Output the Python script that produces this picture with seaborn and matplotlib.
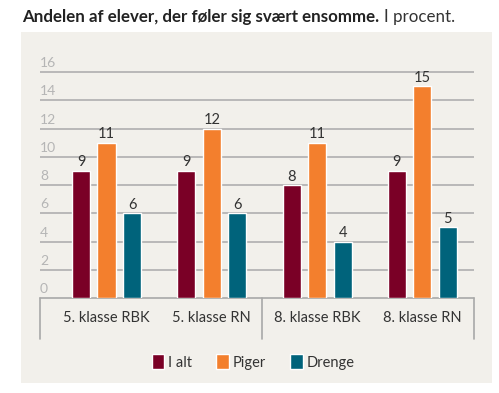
import pandas as pd
import matplotlib.pyplot as plt
import seaborn as sns
from matplotlib.patches import Rectangle

KLASSER = ["5. klasse RBK", "5. klasse RN", "8. klasse RBK", "8. klasse RN"]
GRUPPER = ["I alt", "Piger", "Drenge"]
I_ALT = [9, 9, 8, 9]
PIGER = [11, 12, 11, 15]
DRENGE = [6, 6, 4, 5]
Y_TICKS = [0, 2, 4, 6, 8, 10, 12, 14, 16]

FARVER = ["#7a0026", "#f37f2d", "#00637b"]
BG = "#f2f0eb"

rows = []
for gruppe, vals in zip(GRUPPER, [I_ALT, PIGER, DRENGE]):
    for k, v in zip(KLASSER, vals):
        rows.append({"klasse": k, "gruppe": gruppe, "pct": v})
df = pd.DataFrame(rows)

sns.set_style("white")
plt.rcParams["font.family"] = ["Lato", "DejaVu Sans"]

W, H = 499, 393
X0, X1, Y0, Y1 = 40, 474, 298, 72  # plot area in pixels
fig = plt.figure(figsize=(4.99, 3.93), dpi=100, facecolor="white")

# beige panel as its own axes, in pixel units of the figure
bg = fig.add_axes([0, 0, 1, 1], zorder=-1)
bg.set_xlim(0, W)
bg.set_ylim(H, 0)
bg.axis("off")
bg.add_patch(Rectangle((21, 32), 471, 351, facecolor=BG, edgecolor="none"))

# gridlines mapped from the y ticks onto the plot area
ymax = Y_TICKS[-1]
grid_y = [Y0 - t / ymax * (Y0 - Y1) for t in Y_TICKS[1:]]
bg.hlines(grid_y, X0, X1, colors="#b4b4b4", linewidth=1.3)

grey = "#a8a8a8"
bg.plot([X0, X1], [Y0, Y0], color=grey, lw=1.2)
for xp in [X0, 262, X1]:
    bg.plot([xp, xp], [Y0, 339], color=grey, lw=1.2)

ax = fig.add_axes([X0 / W, 1 - Y0 / H, (X1 - X0) / W, (Y0 - Y1) / H], zorder=1)
ax.patch.set_visible(False)

sns.barplot(data=df, x="klasse", y="pct", hue="gruppe", order=KLASSER, hue_order=GRUPPER,
            palette=FARVER, width=0.727, gap=0.29, saturation=1, ax=ax, legend=False, zorder=3)

for c in ax.containers:
    ax.bar_label(c, fontsize=10.5, color="#333333", padding=1)

ax.set_ylim(0, ymax)
ax.set_xlim(-0.632, 3.49)
ax.set_xticks([])
ax.set_yticks([])
ax.set_xlabel("")
ax.set_ylabel("")
for s in ax.spines.values():
    s.set_visible(False)

for t in Y_TICKS:
    ax.text(-0.632, t + 0.2, str(t), color="#b5b5b5", fontsize=10, ha="left", va="bottom")

for i, k in enumerate(KLASSER):
    ax.text(i, -0.9, k, ha="center", va="top", fontsize=10.5, color="#333333")

handles = [Rectangle((0, 0), 1, 1, facecolor=f) for f in FARVER]
fig.legend(handles, GRUPPER, loc="center", bbox_to_anchor=(253 / W, 1 - 362 / H), ncol=3,
           frameon=False, fontsize=10.5, handlelength=0.85, handleheight=1.15,
           handletextpad=0.25, columnspacing=1.7, labelcolor="#333333")

title = fig.text(22 / W, 1 - 17 / H, "Andelen af elever, der føler sig svært ensomme.",
                 fontsize=12.2, fontweight="bold", color="#222222", va="center", ha="left")
bb = title.get_window_extent(renderer=fig.canvas.get_renderer())
fig.text((bb.x1 + 5) / W, 1 - 17 / H, "I procent.", fontsize=12.2, color="#333333",
         va="center", ha="left")

fig.savefig("out.png", dpi=100)
